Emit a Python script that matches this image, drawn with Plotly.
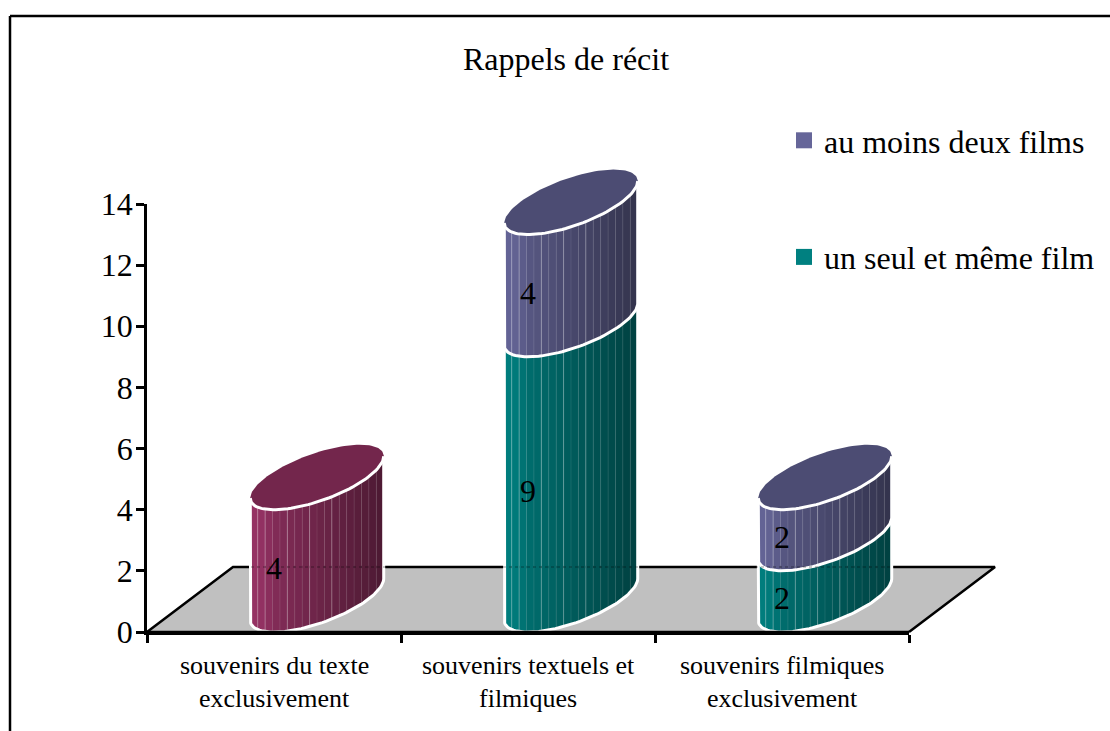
import numpy as np
import plotly.graph_objects as go

# ---- data ----
categories = [
    ["souvenirs du texte", "exclusivement"],
    ["souvenirs textuels et", "filmiques"],
    ["souvenirs filmiques", "exclusivement"],
]
text_only = [4, 0, 0]
one_film = [0, 9, 2]
two_films = [0, 4, 2]
y_ticks = [0, 2, 4, 6, 8, 10, 12, 14]
x_ticks = [0, 1, 2, 3]
title_text = "Rappels de récit"
name_one = "un seul et même film"
name_two = "au moins deux films"

# ---- styles ----
PLUM = (0x99, 0x33, 0x66)
TEAL = (0x00, 0x80, 0x80)
BLUE = (0x66, 0x66, 0x99)
W, H = 1110, 731
PX0, PX3, PY0, PY14 = 147, 909, 632, 204
PX_PER_CAT = (PX3 - PX0) / 3
PX_PER_VAL = (PY0 - PY14) / 14
DEPTH_X = 86 / PX_PER_CAT        # floor depth, in axis units
DEPTH_Y = 65 / PX_PER_VAL
RX = 51 / PX_PER_CAT             # radius along the category axis
FONT = "Liberation Serif"
N_STRIPS = 18
HIGHLIGHT = [0.06, 0.11, 0.28, 0.44, 0.61]


def rgb(c, s=1.0):
    return "rgb(%d,%d,%d)" % tuple(round(v * s) for v in c)


def ring(i, v, t):
    """Point of the disc of category i, at height v, for angle t."""
    x = i + 0.5 + DEPTH_X / 2 + RX * np.cos(t) + DEPTH_X / 2 * np.sin(t)
    y = v + DEPTH_Y / 2 + DEPTH_Y / 2 * np.sin(t)
    return x, y


PHI = np.arctan2(DEPTH_X / 2 * PX_PER_CAT, RX * PX_PER_CAT)


def shade(fr):
    return float(np.interp(fr, [0, 0.08, 0.2, 1], [0.98, 0.96, 0.84, 0.5]))


fig = go.Figure()


def add(tr):
    fig.add_trace(tr)


def poly(x, y, fill, line="rgba(0,0,0,0)", w=0):
    add(go.Scatter(x=list(x), y=list(y), mode="lines", fill="toself", fillcolor=fill,
                   line=dict(color=line, width=w), hoverinfo="skip", showlegend=False,
                   xaxis="x", yaxis="y"))


def path(x, y, color, w, dash="solid"):
    add(go.Scatter(x=list(x), y=list(y), mode="lines", line=dict(color=color, width=w, dash=dash),
                   hoverinfo="skip", showlegend=False, xaxis="x", yaxis="y"))


# floor
floor_x = [0, DEPTH_X, 3 + DEPTH_X, 3, 0]
floor_y = [0, DEPTH_Y, DEPTH_Y, 0, 0]
poly(floor_x, floor_y, "#C0C0C0")
path(floor_x[:4], floor_y[:4], "#000000", 2.5)


def side(i, v0, v1, color):
    us = np.linspace(-1, 1, N_STRIPS + 1)
    ts = PHI - np.arccos(us)
    for k in range(N_STRIPS):
        t = np.linspace(ts[k], ts[k + 1], 8)
        xb, yb = ring(i, v0, t)
        xt, yt = ring(i, v1, t[::-1])
        poly(np.r_[xb, xt], np.r_[yb, yt], rgb(color, shade((k + 0.5) / N_STRIPS)),
             rgb(color, shade((k + 0.5) / N_STRIPS)), 0.5)
    # thin light separators between strips
    sx, sy, hx, hy = [], [], [], []
    for k in range(1, N_STRIPS):
        xb, yb = ring(i, v0, ts[k])
        xt, yt = ring(i, v1, ts[k])
        fr = k / N_STRIPS
        if any(abs(fr - h) < 0.5 / N_STRIPS for h in HIGHLIGHT):
            hx += [xb, xt, None]; hy += [yb, yt, None]
        else:
            sx += [xb, xt, None]; sy += [yb, yt, None]
    path(sx, sy, "rgba(255,255,255,0.09)", 1)
    path(hx, hy, "rgba(255,255,255,0.30)", 1)
    # white outline of the segment
    t = np.linspace(PHI - np.pi, PHI, 60)
    xb, yb = ring(i, v0, t)
    xr, yr = ring(i, v1, np.array([PHI]))
    xl, yl = ring(i, v1, np.array([PHI - np.pi]))
    path(np.r_[xl, xb, xr], np.r_[yl, yb, yr], "#FFFFFF", 3)


segments = []
for i in range(3):
    base = 0
    for vals, col in ((text_only, PLUM), (one_film, TEAL), (two_films, BLUE)):
        if vals[i] > 0:
            segments.append((i, base, base + vals[i], col))
            base += vals[i]

for seg in segments:
    side(*seg)

# back edge of the floor, faintly visible through the cylinders
path(floor_x[1:3], floor_y[1:3], "rgba(0,0,0,0.28)", 1.5, "dot")

# top discs
for i in range(3):
    top = max(s[2] for s in segments if s[0] == i)
    col = [s[3] for s in segments if s[0] == i and s[2] == top][0]
    t = np.linspace(0, 2 * np.pi, 120)
    x, y = ring(i, top, t)
    poly(x, y, rgb(col, 0.75))
    t = np.linspace(PHI - np.pi, PHI, 60)
    x, y = ring(i, top, t)
    path(x, y, "#FFFFFF", 3)

# data labels, at the middle of each segment on the front plane
lx = [s[0] + 0.5 for s in segments]
ly = [(s[1] + s[2]) / 2 for s in segments]
lt = [str(s[2] - s[1]) for s in segments]
add(go.Scatter(x=lx, y=ly, mode="text", text=lt, textposition="middle center",
               textfont=dict(family=FONT, size=32, color="#000000"),
               hoverinfo="skip", showlegend=False, xaxis="x", yaxis="y"))

# legend entries
for nm, col, grp in ((name_two, BLUE, "a"), (name_one, TEAL, "b")):
    add(go.Scatter(x=[None], y=[None], mode="markers", name=nm, legendgroup=grp,
                   marker=dict(symbol="square", size=17, color=rgb(col)), xaxis="x", yaxis="y"))

# trace that holds the visible axes
add(go.Scatter(x=x_ticks, y=[0, 0, 0, 0], mode="lines", line=dict(color="#000000", width=2.5),
               hoverinfo="skip", showlegend=False, xaxis="x2", yaxis="y2"))

annots = []
for i, lines in enumerate(categories):
    for j, s in enumerate(lines):
        annots.append(dict(text=s, x=i + 0.5, xref="x", y=1 - (665 + 33 * j) / H, yref="paper",
                           xanchor="center", yanchor="middle", showarrow=False,
                           font=dict(family=FONT, size=26, color="#000000")))

fig.update_layout(
    width=W, height=H, margin=dict(l=0, r=0, t=0, b=0, autoexpand=False),
    paper_bgcolor="#FFFFFF", plot_bgcolor="rgba(0,0,0,0)",
    title=dict(text=title_text, x=566 / W, xanchor="center", y=1 - 59 / H, yanchor="middle",
               xref="paper", yref="paper", font=dict(family=FONT, size=32, color="#000000")),
    xaxis=dict(domain=[0, 1], range=[-PX0 / PX_PER_CAT, (W - PX0) / PX_PER_CAT], visible=False, automargin=False),
    yaxis=dict(domain=[0, 1], range=[-(H - PY0) / PX_PER_VAL, PY0 / PX_PER_VAL], visible=False, automargin=False),
    xaxis2=dict(domain=[PX0 / W, PX3 / W], range=[0, 3], anchor="y2", tickvals=x_ticks, automargin=False,
                showticklabels=False, ticks="outside", ticklen=8, tickwidth=2.5, tickcolor="#000000",
                showline=True, linecolor="#000000", linewidth=2.5, showgrid=False, zeroline=False),
    yaxis2=dict(domain=[1 - PY0 / H, 1 - PY14 / H], range=[0, 14], anchor="x2", tickvals=y_ticks, automargin=False,
                ticks="outside", ticklen=8, tickwidth=2.5, tickcolor="#000000", ticklabelstandoff=-3,
                tickfont=dict(family=FONT, size=32, color="#000000"),
                showline=True, linecolor="#000000", linewidth=2.5, showgrid=False, zeroline=False),
    legend=dict(x=784 / W, y=1 - 113 / H, xanchor="left", yanchor="top", tracegroupgap=72,
                bgcolor="rgba(0,0,0,0)", font=dict(family=FONT, size=32, color="#000000"),
                itemclick=False, itemdoubleclick=False),
    annotations=annots,
    shapes=[
        dict(type="line", xref="paper", yref="paper", x0=10 / W, x1=1, y0=1 - 16 / H, y1=1 - 16 / H,
             line=dict(color="#000000", width=2.5)),
        dict(type="line", xref="paper", yref="paper", x0=10 / W, x1=10 / W, y0=1 - 16 / H, y1=0,
             line=dict(color="#000000", width=2.5)),
    ],
)

fig.write_html("out.html", config=dict(displayModeBar=False),
               post_script="document.body.style.margin='0';document.body.style.overflow='hidden';")
